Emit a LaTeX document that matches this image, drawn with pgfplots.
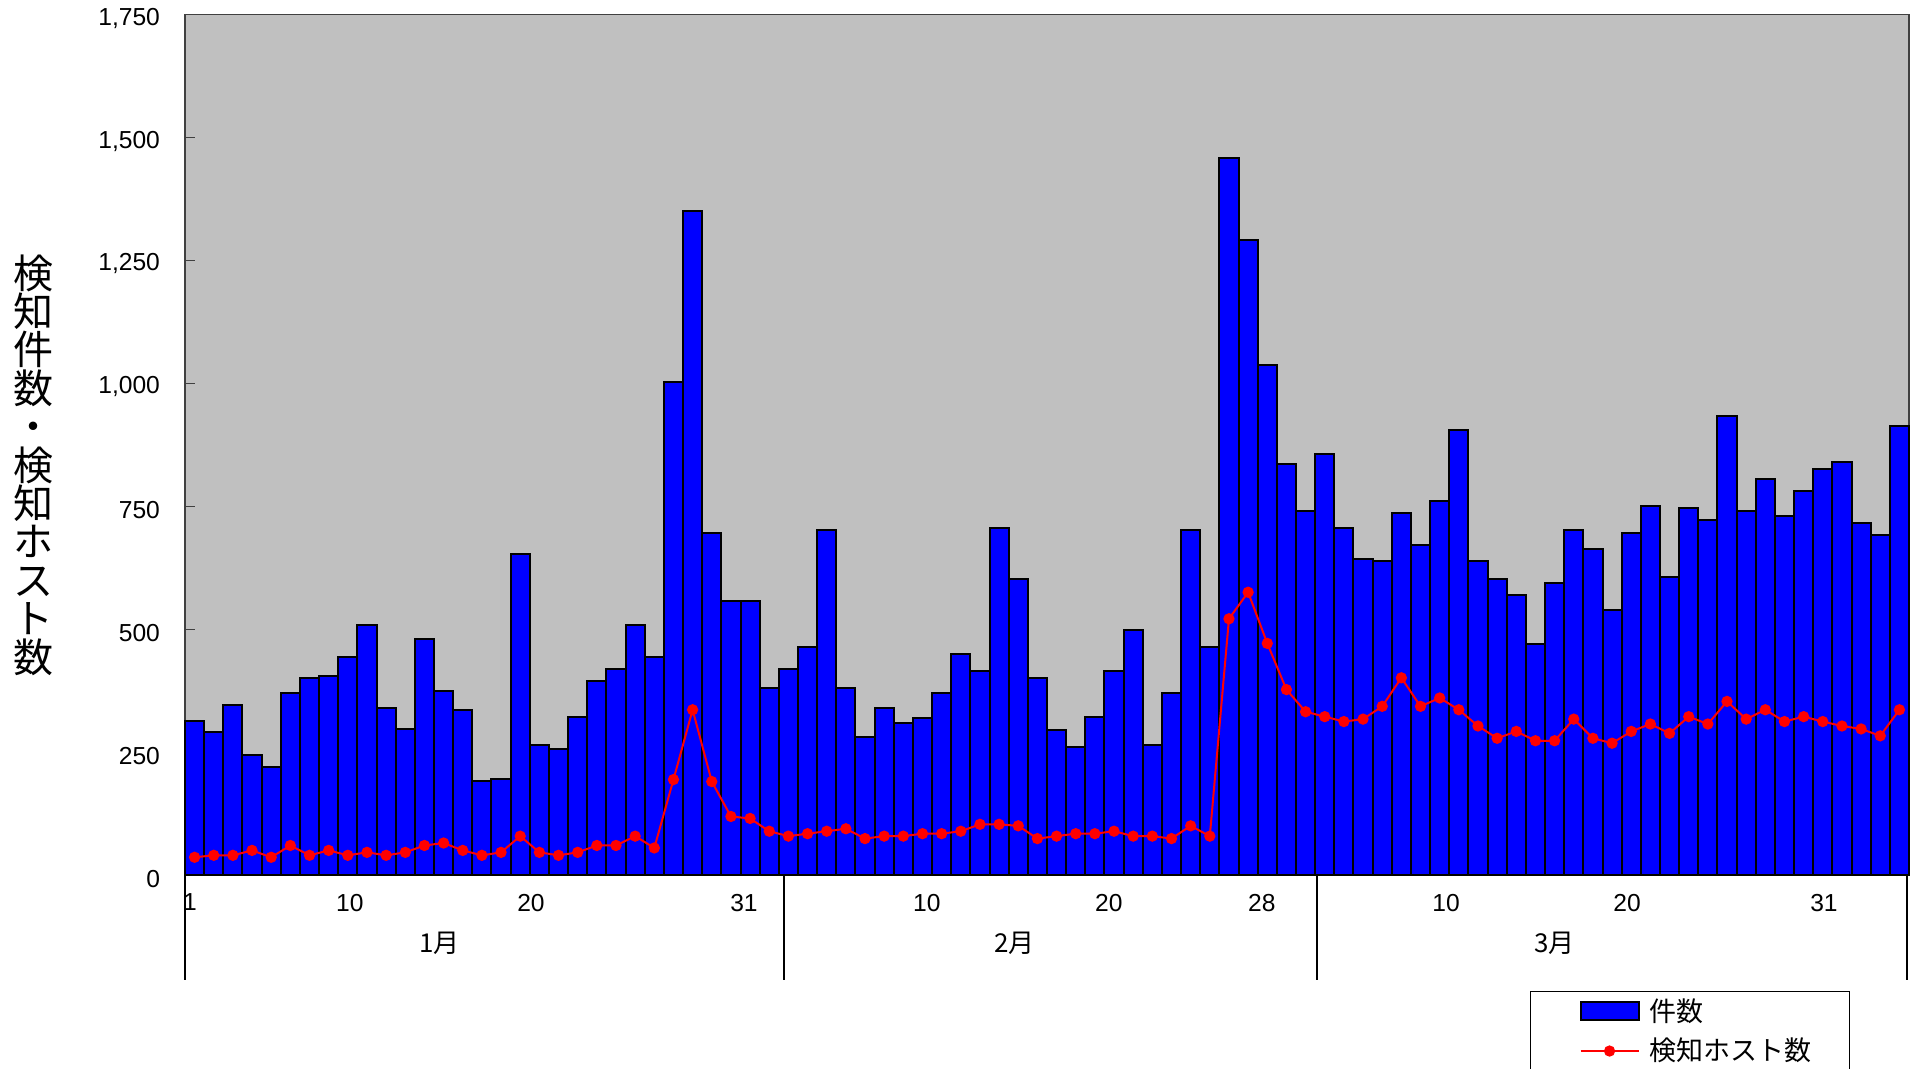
\documentclass[border=0pt]{standalone}
\usepackage{pgfplots}
\usepackage{pgfplotstable}
\pgfplotsset{compat=1.18}
\usepackage{fontspec}
\setmainfont{Liberation Sans}
\newfontfamily\cjk{Noto Sans CJK JP}
\definecolor{plotbg}{RGB}{192,192,192}
\definecolor{barblue}{RGB}{0,0,255}
\definecolor{linered}{RGB}{255,0,0}

\pgfplotsset{
  mybarleg/.style={legend image code/.code={\draw[fill=barblue, draw=black, line width=1pt] (0pt,-4.5pt) rectangle (29pt,4.5pt);}},
  mylineleg/.style={legend image code/.code={\draw[mark repeat=2, mark phase=2, ##1] plot coordinates {(0pt,0pt) (14.5pt,0pt) (29pt,0pt)};}},
}

\pgfplotstableread{
i v h
0 314 36
1 290 40
2 346 40
3 245 50
4 220 36
5 370 60
6 400 40
7 404 50
8 444 40
9 508 46
10 340 40
11 296 46
12 479 60
13 375 65
14 335 50
15 191 40
16 196 46
17 652 79
18 265 46
19 256 40
20 321 46
21 394 60
22 419 60
23 508 79
24 444 55
25 1003 194
26 1350 336
27 696 190
28 557 119
29 557 115
30 380 89
31 419 79
32 464 84
33 701 89
34 380 94
35 281 74
36 340 79
37 310 79
38 320 84
39 370 84
40 449 89
41 414 103
42 706 103
43 602 100
44 400 74
45 295 79
46 260 84
47 321 84
48 414 89
49 499 79
50 265 79
51 370 74
52 701 100
53 464 79
54 1459 521
55 1291 575
56 1038 471
57 835 377
58 741 332
59 856 322
60 706 312
61 643 317
62 638 343
63 737 401
64 672 343
65 761 360
66 905 336
67 638 303
68 602 278
69 569 292
70 470 273
71 593 273
72 701 317
73 662 278
74 538 268
75 696 292
76 751 307
77 607 288
78 746 322
79 722 307
80 933 353
81 740 317
82 806 336
83 731 312
84 780 322
85 825 312
86 839 303
87 716 297
88 691 283
89 914 336
}\datatable

\begin{document}
\begin{tikzpicture}
\begin{axis}[
  at={(92.5pt,97pt)}, anchor=south west,
  width=862pt, height=430.25pt, scale only axis,
  xmin=-0.5, xmax=89.5, ymin=0, ymax=1750,
  clip=false,
  axis background/.style={fill=plotbg},
  axis line style={draw=black!75, line width=0.8pt},
  ytick={0,250,500,750,1000,1250,1500,1750},
  scaled y ticks=false,
  /pgf/number format/1000 sep={,},
  /pgf/number format/assume math mode=true,
  ytick align=inside,
  ytick pos=left,
  major tick length=5pt,
  tick style={black!75, line width=0.6pt},
  yticklabel style={font=\fontsize{12.3}{14}\selectfont, xshift=-9pt, yshift=-1.8pt},
  xtick={-0.24,8.11,17.56,28.68,38.23,47.73,55.72,65.33,74.78,85.06},
  xticklabels={1,10,20,31,10,20,28,10,20,31},
  xtick style={draw=none},
  xticklabel style={font=\fontsize{12.3}{14}\selectfont, yshift=-6pt},
  legend cell align=left,
  legend style={at={(0.7802,-0.1348)}, anchor=north west, draw=black, line width=0.5pt,
    fill=white, inner xsep=24.5pt, inner ysep=1pt, row sep=2pt,
    nodes={inner sep=2.5pt},
    font=\cjk\fontsize{13.5}{15}\selectfont},
]
\addplot[ybar, bar width=1, fill=barblue, draw=black, line width=1pt, mybarleg]
  table[x=i, y=v] {\datatable};
\addlegendentry{\hspace{2.5pt}\makebox[73pt][l]{件数}}
\addplot[linered, line width=1pt, mark=*, mark size=2.3pt, mark options={fill=linered, draw=linered}, mylineleg]
  table[x=i, y=h] {\datatable};
\addlegendentry{\hspace{2.5pt}\makebox[73pt][l]{検知ホスト数}}

\draw[black, line width=1pt] (axis cs:-0.5,0) -- ++(0pt,-52.5pt);
\draw[black, line width=1pt] (axis cs:30.75,0) -- ++(0pt,-52.5pt);
\draw[black, line width=1pt] (axis cs:58.6,0) -- ++(0pt,-52.5pt);
\draw[black, line width=1pt] (axis cs:89.4,0) -- ++(0pt,-52.5pt);
\node[font=\cjk\fontsize{13}{13}\selectfont] at ([yshift=-34pt]axis cs:12.8,0) {1月};
\node[font=\cjk\fontsize{13}{13}\selectfont] at ([yshift=-34pt]axis cs:42.8,0) {2月};
\node[font=\cjk\fontsize{13}{13}\selectfont] at ([yshift=-34pt]axis cs:71.0,0) {3月};
\end{axis}
\node[font=\cjk\fontsize{20}{19.2}\selectfont, align=center, inner sep=0pt] at (16.5pt,302pt)
  {検\\知\\件\\数\\・\\検\\知\\ホ\\ス\\ト\\数};
\pgfresetboundingbox
\useasboundingbox (0pt,0pt) rectangle (959pt,534.5pt);
\end{tikzpicture}
\end{document}
